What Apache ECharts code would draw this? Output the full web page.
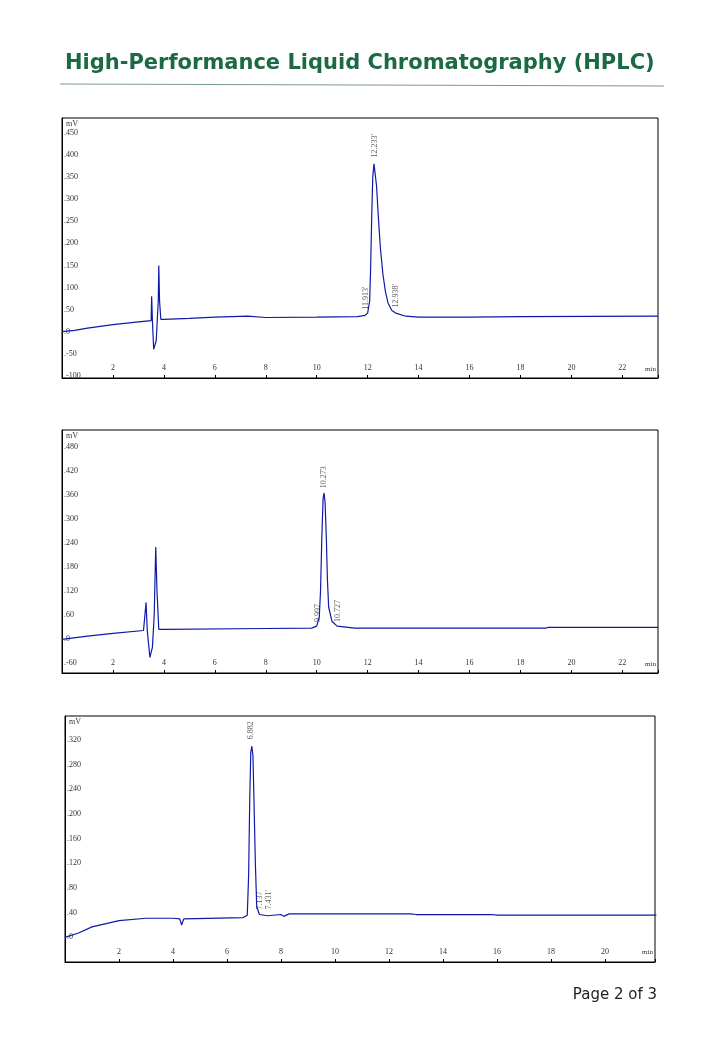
<!DOCTYPE html>
<html>
<head>
<meta charset="utf-8">
<script src="https://cdn.jsdelivr.net/npm/echarts@6/dist/echarts.min.js"></script>
<style>
  body { margin: 0; background: #fff; }
  #main { width: 720px; height: 1040px; }
</style>
</head>
<body>
<div id="main"></div>
<script>
// trace 1 (min, mV)
var trace1 = [[0,0],[0.5,3],[1,8],[2,16],[3,22],[3.5,25],[3.52,80],[3.55,25],[3.6,-40],[3.7,-20],[3.78,70],[3.8,150],[3.83,70],[3.88,28],[4,28],[5,30],[6,33],[7.3,35],[8,32],[10,33],[11.6,34],[11.9,37],[12,42],[12.08,70],[12.12,150],[12.16,260],[12.2,350],[12.25,380],[12.29,378],[12.35,330],[12.42,260],[12.5,190],[12.6,130],[12.7,90],[12.8,65],[12.95,48],[13.1,42],[13.5,35],[14,33],[16,33],[18,34],[23.4,35]]
var peaks1 = [[11.95,45,"11.913'"],[12.27,390,"12.233'"],[13.1,50,"12.938'"]]

var trace2 = [[0,0],[1,8],[2,15],[3.2,22],[3.3,92],[3.35,20],[3.45,-45],[3.55,-20],[3.62,60],[3.68,230],[3.73,120],[3.8,25],[4,25],[8,27],[9.8,28],[10.0,33],[10.1,55],[10.15,120],[10.2,250],[10.25,350],[10.29,365],[10.33,340],[10.38,250],[10.42,150],[10.47,80],[10.6,45],[10.8,33],[11.5,28],[19,28],[19.1,30],[23.4,30]]
var peaks2 = [[10.05,38,"9.997"],[10.3,372,"10.273"],[10.85,38,"10.727"]]

var trace3 = [[0,0],[0.5,7],[1,17],[2,27],[3,31],[4,31],[4.25,30],[4.32,20],[4.4,30],[6.6,32],[6.75,36],[6.8,100],[6.84,220],[6.88,300],[6.92,310],[6.96,295],[7.0,220],[7.05,120],[7.1,50],[7.2,37],[7.5,35],[8,37],[8.1,34],[8.3,38],[12.8,38],[13,37],[15.8,37],[16,36],[21.9,36]]
var peaks3 = [[6.9,318,"6.882"],[7.2,42,"7.137"],[7.55,42,"7.431'"]]

var yRanges = [[-105,484,5,50],[-84,522,12,60],[-40,359,40,40]]
var xMax = [23.4, 23.4, 21.85]
var grids = [
  {left: 62, top: 118, width: 596, height: 260},
  {left: 62, top: 430, width: 596, height: 243},
  {left: 65, top: 716, width: 590, height: 246}
]
var traces = [trace1, trace2, trace3]
var peaks = [peaks1, peaks2, peaks3]

var font = 'Liberation Serif'
var option = {
  backgroundColor: '#fff',
  title: [{
    text: 'High-Performance Liquid Chromatography (HPLC)',
    left: 60, top: 48,
    textStyle: {fontFamily: 'DejaVu Sans', fontSize: 21, fontWeight: 'bold', color: '#1b6a45'}
  }, {
    text: 'Page 2 of 3', right: 58, top: 983,
    textStyle: {fontFamily: 'DejaVu Sans', fontSize: 15, fontWeight: 'normal', color: '#222'}
  }],
  graphic: [{
    type: 'line', shape: {x1: 60, y1: 84, x2: 664, y2: 86},
    style: {stroke: '#7a9a88', lineWidth: 1.2}
  }],
  grid: grids.map(function (g) {
    return Object.assign({show: true, borderColor: '#000', borderWidth: 1}, g)
  }),
  xAxis: [], yAxis: [], series: []
}

traces.forEach(function (t, i) {
  var yr = yRanges[i]
  option.xAxis.push({
    type: 'value', gridIndex: i, min: 0, max: xMax[i], interval: 2,
    axisLine: {onZero: false, lineStyle: {color: '#000'}},
    axisTick: {inside: true, length: 3, lineStyle: {color: '#000'}},
    splitLine: {show: false},
    axisLabel: {
      inside: true, margin: 6, fontSize: 8, fontFamily: font, color: '#333',
      formatter: function (v) { return (v === 0 || v > xMax[i] - 0.5) ? '' : v }
    }
  })
  option.yAxis.push({
    type: 'value', gridIndex: i, min: yr[0], max: yr[1], interval: yr[2],
    name: 'mV', nameLocation: 'end', nameGap: -10,
    nameTextStyle: {fontSize: 8, fontFamily: font, color: '#333', align: 'left', padding: [0, 0, 0, 4]},
    axisLine: {onZero: false, lineStyle: {color: '#000'}},
    axisTick: {show: false},
    splitLine: {show: false},
    axisLabel: {
      inside: true, margin: 2, fontSize: 8, fontFamily: font, color: '#333', interval: 0,
      formatter: function (v) {
        if (v % yr[3] !== 0 || v === yr[0] && i > 0 || v > yr[1] - 20) return ''
        return '.' + v
      }
    }
  })
  option.series.push({
    type: 'line', xAxisIndex: i, yAxisIndex: i, data: t, showSymbol: false,
    lineStyle: {color: '#0f1aa8', width: 1.2}, silent: true
  })
  option.series.push({
    type: 'scatter', xAxisIndex: i, yAxisIndex: i, symbolSize: 0, silent: true,
    data: peaks[i].map(function (p) { return {value: [p[0], p[1]], name: p[2]} }),
    label: {
      show: true, position: 'top', rotate: 90, align: 'left', verticalAlign: 'middle',
      formatter: '{b}', fontSize: 8, fontFamily: font, color: '#333', distance: 2
    }
  })
})
option.graphic.push(
  {type: 'text', left: 645, top: 366, style: {text: 'min', fontSize: 7, fontFamily: font, fill: '#333'}},
  {type: 'text', left: 645, top: 661, style: {text: 'min', fontSize: 7, fontFamily: font, fill: '#333'}},
  {type: 'text', left: 642, top: 949, style: {text: 'min', fontSize: 7, fontFamily: font, fill: '#333'}}
)

var chart = echarts.init(document.getElementById('main'))
chart.setOption(option)
</script>
</body>
</html>
